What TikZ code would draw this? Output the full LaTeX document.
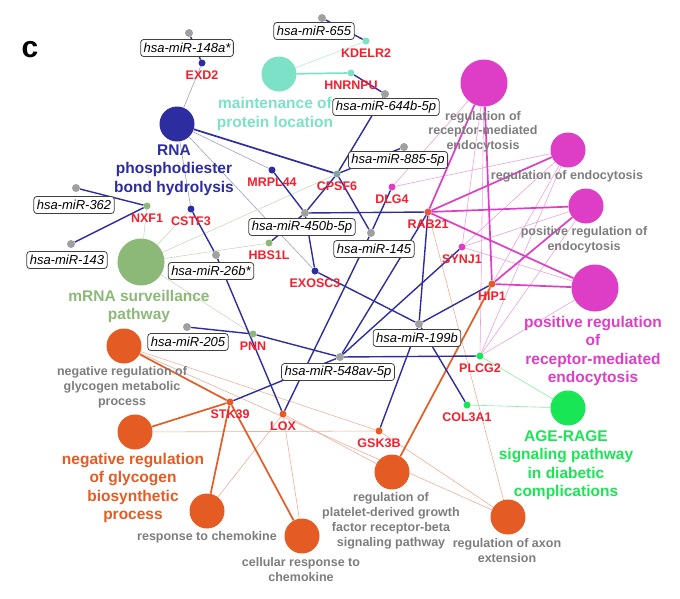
\documentclass[tikz,border=0pt]{standalone}
\usepackage{fontspec}
\setmainfont{Liberation Sans}
\usetikzlibrary{backgrounds}
\definecolor{navy}{RGB}{45,45,160}
\definecolor{navyl}{RGB}{155,160,195}
\definecolor{tealc}{RGB}{125,225,200}
\definecolor{teall}{RGB}{175,235,220}
\definecolor{mag}{RGB}{222,62,198}
\definecolor{magl}{RGB}{238,160,222}
\definecolor{ageg}{RGB}{25,230,85}
\definecolor{agel}{RGB}{130,240,160}
\definecolor{orng}{RGB}{228,92,35}
\definecolor{orngl}{RGB}{238,175,152}
\definecolor{mgreen}{RGB}{140,185,120}
\definecolor{mgreenl}{RGB}{200,218,190}
\definecolor{genered}{RGB}{245,30,45}
\definecolor{labgray}{RGB}{125,125,125}
\definecolor{mirgray}{RGB}{160,160,160}
\definecolor{cpsfc}{RGB}{130,165,155}
\begin{document}
\begin{tikzpicture}[x=1pt,y=-1pt,label distance=4pt,
term/.style={shape=circle,inner sep=0pt,minimum size=35pt},
termB/.style={term,minimum size=47pt},
gene/.style={shape=circle,inner sep=0pt,minimum size=7pt},
glab/.style={text=genered,inner sep=0pt,font=\bfseries\fontsize{12.5}{13}\selectfont},
mirdot/.style={shape=circle,fill=mirgray,inner sep=0pt,minimum size=8pt},
mir/.style={draw=black!75,line width=0.8pt,rounded corners=3pt,fill=white,inner xsep=3pt,inner ysep=0pt,minimum height=17pt,font=\itshape\fontsize{13}{14}\selectfont},
tlab/.style={align=center,inner sep=0pt,font=\bfseries\fontsize{15.5}{18.5}\selectfont},
slab/.style={align=center,inner sep=0pt,text=labgray,font=\bfseries\fontsize{12.5}{15}\selectfont},
mirE/.style={draw=navy,line width=1.4pt},
hardE/.style={line width=1.7pt},
softE/.style={line width=0.6pt}]
\useasboundingbox (0,0) rectangle (680,598);

\node[font=\bfseries\fontsize{30}{30}\selectfont,inner sep=0pt] (panel) at (30,49.5) {c};

\node[term,fill=tealc] (mp) at (279,74) {};
\node[term,fill=navy] (rna) at (177,124) {};
\node[termB,fill=mag] (rrme) at (484,83) {};
\node[term,fill=mag] (re) at (568,150) {};
\node[term,fill=mag] (pre) at (586,206) {};
\node[termB,fill=mag] (prrme) at (595,288) {};
\node[term,fill=ageg] (age) at (568,408) {};
\node[termB,fill=mgreen] (mrna) at (141,262) {};
\node[term,fill=orng] (nrgmp) at (124,346) {};
\node[term,fill=orng] (nrgbp) at (135,432) {};
\node[term,fill=orng] (rchem) at (207,511) {};
\node[term,fill=orng] (crchem) at (302,536) {};
\node[term,fill=orng] (pdgf) at (392,472) {};
\node[term,fill=orng] (axon) at (508,517) {};

\node[tlab,text=tealc] (mplab) at (275,114) {maintenance of\\protein location};
\node[tlab,text=navy] (rnalab) at (174,170) {RNA\\phosphodiester\\bond hydrolysis};
\node[slab,font=\bfseries\fontsize{12.5}{14.5}\selectfont] (rrmelab) at (483,131.5) {regulation of\\receptor-mediated\\endocytosis};
\node[slab] (relab) at (567,176) {regulation of endocytosis};
\node[slab] (prelab) at (584,240) {positive regulation of\\endocytosis};
\node[tlab,text=mag] (prrmelab) at (593,351) {positive regulation\\of\\receptor-mediated\\endocytosis};
\node[tlab,text=ageg] (agelab) at (566,465) {AGE-RAGE\\signaling pathway\\in diabetic\\complications};
\node[tlab,text=mgreen] (mrnalab) at (139,306.5) {mRNA surveillance\\pathway};
\node[slab] (nrgmplab) at (122,387.5) {negative regulation of\\glycogen metabolic\\process};
\node[tlab,text=orng] (nrgbplab) at (133,488) {negative regulation\\of glycogen\\biosynthetic\\process};
\node[slab] (rchemlab) at (207,537) {response to chemokine};
\node[slab] (crchemlab) at (301,569.5) {cellular response to\\chemokine};
\node[slab] (pdgflab) at (391,521) {regulation of\\platelet-derived growth\\factor receptor-beta\\signaling pathway};
\node[slab] (axonlab) at (507,550.5) {regulation of axon\\extension};

\node[gene,fill=navy,label={[glab]below:EXD2}] (exd2) at (202,63) {};
\node[gene,fill=tealc,label={[glab]below:KDELR2}] (kdelr2) at (366,41) {};
\node[gene,fill=tealc,label={[glab]below:HNRNPU}] (hnrnpu) at (351,73) {};
\node[gene,fill=navy,label={[glab]below:MRPL44}] (mrpl44) at (272,170) {};
\node[gene,fill=cpsfc,label={[glab]below:CPSF6}] (cpsf6) at (337,174) {};
\node[gene,fill=mag,label={[glab]below:DLG4}] (dlg4) at (392,187) {};
\node[gene,fill=mgreen,label={[glab]below:NXF1}] (nxf1) at (147,206) {};
\node[gene,fill=navy,label={[glab]below:CSTF3}] (cstf3) at (191,209) {};
\node[gene,fill=mgreen,label={[glab]below:HBS1L}] (hbs1l) at (269,243) {};
\node[gene,fill=navy,label={[glab]below:EXOSC3}] (exosc3) at (315,271) {};
\node[gene,fill=orng!80!mag,label={[glab]below:RAB21}] (rab21) at (428,212) {};
\node[gene,fill=mag,label={[glab]below:SYNJ1}] (synj1) at (462,247) {};
\node[gene,fill=orng,label={[glab]below:HIP1}] (hip1) at (492,284) {};
\node[gene,fill=ageg,label={[glab]below:PLCG2}] (plcg2) at (480,356) {};
\node[gene,fill=ageg,label={[glab]below:COL3A1}] (col3a1) at (467,405) {};
\node[gene,fill=mgreen,label={[glab]below:PNN}] (pnn) at (253,334) {};
\node[gene,fill=orng,label={[glab]below:STK39}] (stk39) at (230,402) {};
\node[gene,fill=orng,label={[glab]below:LOX}] (lox) at (283,414) {};
\node[gene,fill=orng,label={[glab]below:GSK3B}] (gsk3b) at (379,431) {};

\node[mirdot] (m148) at (189,33) {};
\node[mirdot] (m655) at (322,18) {};
\node[mirdot] (m644) at (385,94) {};
\node[mirdot] (m885) at (404,147) {};
\node[mirdot] (m362) at (76,188) {};
\node[mirdot] (m143) at (71,244) {};
\node[mirdot] (m450) at (305,213) {};
\node[mirdot] (m145) at (371,233) {};
\node[mirdot] (m26b) at (216,255) {};
\node[mirdot] (m205) at (187,327) {};
\node[mirdot] (m199) at (419,324) {};
\node[mirdot] (m548) at (340,357) {};

\node[mir] (m148box) at (187,48) {hsa-miR-148a*};
\node[mir] (m655box) at (314,31) {hsa-miR-655};
\node[mir] (m644box) at (386,107) {hsa-miR-644b-5p};
\node[mir] (m885box) at (398,160) {hsa-miR-885-5p};
\node[mir] (m362box) at (74,205) {hsa-miR-362};
\node[mir] (m143box) at (67,260) {hsa-miR-143};
\node[mir] (m450box) at (302,227) {hsa-miR-450b-5p};
\node[mir] (m145box) at (374,249) {hsa-miR-145};
\node[mir] (m26bbox) at (211,271) {hsa-miR-26b*};
\node[mir] (m205box) at (188,342) {hsa-miR-205};
\node[mir] (m199box) at (417,338) {hsa-miR-199b};
\node[mir] (m548box) at (338,372) {hsa-miR-548av-5p};

\begin{scope}[on background layer]
\draw[softE,navyl] (rna) -- (exd2);
\draw[softE,navyl] (rna) -- (mrpl44);
\draw[softE,navyl] (rna) -- (cstf3);
\draw[softE,navyl] (rna) -- (exosc3);
\draw[hardE,navy] (rna) -- (cpsf6);
\draw[softE,teall] (mp) -- (kdelr2);
\draw[hardE,tealc] (mp) -- (hnrnpu);
\draw[softE,mgreenl] (mrna) -- (nxf1);
\draw[softE,mgreenl] (mrna) -- (cstf3);
\draw[softE,mgreenl] (mrna) -- (cpsf6);
\draw[softE,mgreenl] (mrna) -- (hbs1l);
\draw[softE,mgreenl] (mrna) -- (pnn);
\draw[softE,magl] (dlg4) -- (rrme);
\draw[softE,magl] (dlg4) -- (re);
\draw[softE,magl] (synj1) -- (rrme);
\draw[softE,magl] (synj1) -- (re);
\draw[softE,magl] (synj1) -- (pre);
\draw[softE,magl] (synj1) -- (prrme);
\draw[softE,magl] (plcg2) -- (rrme);
\draw[softE,magl] (plcg2) -- (re);
\draw[softE,magl] (plcg2) -- (pre);
\draw[softE,magl] (plcg2) -- (prrme);
\draw[softE,magl] (hip1) -- (re);
\draw[hardE,mag] (rab21) -- (rrme);
\draw[hardE,mag] (rab21) -- (re);
\draw[hardE,mag] (rab21) -- (pre);
\draw[hardE,mag] (rab21) -- (prrme);
\draw[hardE,mag] (hip1) -- (rrme);
\draw[hardE,mag] (hip1) -- (pre);
\draw[hardE,mag] (hip1) -- (prrme);
\draw[softE,agel] (plcg2) -- (age);
\draw[softE,agel] (col3a1) -- (age);
\draw[softE,orngl] (lox) -- (rchem);
\draw[softE,orngl] (lox) -- (crchem);
\draw[softE,orngl] (lox) -- (pdgf);
\draw[softE,orngl] (nrgbp) -- (gsk3b);
\draw[softE,orngl] (nrgmp) -- (gsk3b);
\draw[softE,orngl] (nrgmp) -- (axon);
\draw[softE,orngl] (gsk3b) -- (axon);
\draw[softE,orngl] (rab21) -- (axon);
\draw[hardE,orng] (stk39) -- (nrgmp);
\draw[hardE,orng] (stk39) -- (nrgbp);
\draw[hardE,orng] (stk39) -- (rchem);
\draw[hardE,orng] (stk39) -- (crchem);
\draw[hardE,orng] (hip1) -- (pdgf);
\draw[mirE] (m148) -- (exd2);
\draw[mirE] (m655) -- (kdelr2);
\draw[mirE] (m644) -- (hnrnpu);
\draw[mirE] (m644) -- (cpsf6);
\draw[mirE] (m885) -- (cpsf6);
\draw[mirE] (m450) -- (cpsf6);
\draw[mirE] (m450) -- (mrpl44);
\draw[mirE] (m450) -- (rab21);
\draw[mirE] (m450) -- (hbs1l);
\draw[mirE] (m450) -- (exosc3);
\draw[mirE] (m145) -- (cpsf6);
\draw[mirE] (m145) -- (dlg4);
\draw[mirE] (m145) -- (lox);
\draw[mirE] (m362) -- (nxf1);
\draw[mirE] (m143) -- (nxf1);
\draw[mirE] (m26b) -- (cstf3);
\draw[mirE] (m26b) -- (lox);
\draw[mirE] (m205) -- (pnn);
\draw[mirE] (m548) -- (pnn);
\draw[mirE] (m548) -- (rab21);
\draw[mirE] (m548) -- (synj1);
\draw[mirE] (m548) -- (plcg2);
\draw[mirE] (m548) -- (stk39);
\draw[mirE] (m199) -- (rab21);
\draw[mirE] (m199) -- (exosc3);
\draw[mirE] (m199) -- (hip1);
\draw[mirE] (m199) -- (col3a1);
\draw[mirE] (m199) -- (gsk3b);
\end{scope}
\end{tikzpicture}
\end{document}
